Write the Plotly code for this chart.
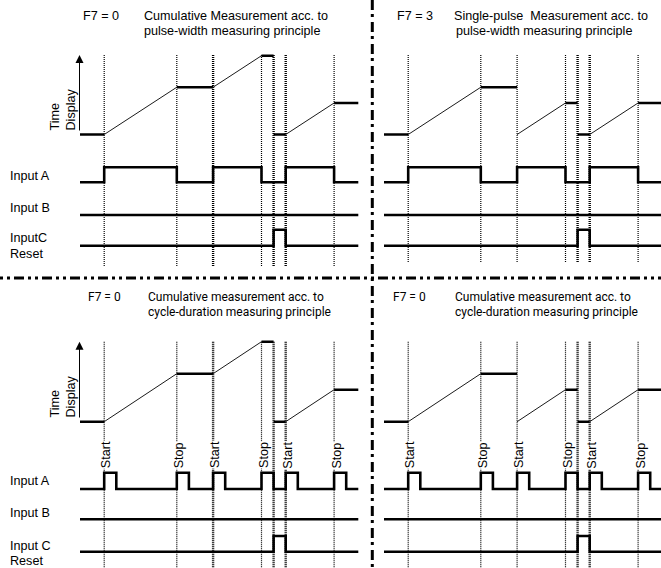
import plotly.graph_objects as go

W, H = 661, 568

# ---------------- data (time in arbitrary units) ----------------
event_t = [2, 8, 11, 15, 16, 17, 21]
t_end = 23

# Time display, cumulative measurement (break points; equal times = jump)
cum_t = [0, 2, 8, 11, 15, 16, 16, 17, 21, 23]
cum_v = [0, 0, 6, 6, 10, 10, 0, 0, 4, 4]
# Time display, single-pulse style measurement
sgl_t = [0, 2, 8, 11, 11, 15, 16, 16, 17, 21, 23]
sgl_v = [0, 0, 6, 6, 0, 4, 4, 0, 0, 4, 4]

# Input A, pulse-width principle (level held after each time)
pw_a_t = [0, 2, 8, 11, 15, 17, 21, 23]
pw_a_v = [0, 1, 0, 1, 0, 1, 0, 0]
# Input A, cycle-duration principle (short pulses)
cd_a_t = [0, 2, 3, 8, 9, 11, 12, 15, 16, 17, 18, 21, 22, 23]
cd_a_v = [0, 1, 0, 1, 0, 1, 0, 1, 0, 1, 0, 1, 0, 0]
# Input B
b_t = [0, 23]
b_v = [0, 0]
# Input C (reset)
c_t = [0, 16, 17, 23]
c_v = [0, 1, 0, 0]

edge_t = [2, 8, 11, 15, 17, 21]
edge_lbl = ["Start", "Stop", "Start", "Stop", "Start", "Stop"]

# ---------------- layout helpers ----------------
PX_PER_T = 12.1
ARIAL = "Liberation Sans, Arial, sans-serif"
SYNT = "Roboto, sans-serif"
FS = 12.6
FS2 = 12.0


def P(x):
    return x / W


def Q(y):
    return 1 - y / H


def xaxis_def(px0, px_lo, px_hi):
    return dict(visible=False, fixedrange=True,
                domain=[px_lo / W, px_hi / W],
                range=[(px_lo - px0) / PX_PER_T, (px_hi - px0) / PX_PER_T])


def yaxis_def(anchor, v_a, py_a, v_b, py_b, lo, hi):
    k = (py_b - py_a) / (v_b - v_a)
    p_lo = py_a + (lo - v_a) * k
    p_hi = py_a + (hi - v_a) * k
    return dict(visible=False, fixedrange=True, anchor=anchor,
                domain=[Q(p_lo), Q(p_hi)], range=[lo, hi])


rows = {
    "top": dict(disp=(134.5, 55.7), a=(182.3, 167.3), b=215.0, c=(245.7, 229.7),
                dot=(55, 267), tdy=132),
    "bot": dict(disp=(421.7, 341.7), a=(489.0, 472.7), b=519.3, c=(551.7, 536.0),
                dot=(341.7, 568), tdy=419),
}

panels = [
    dict(row="top", px0=80, lo=60, hi=366, disp=(cum_t, cum_v), a=(pw_a_t, pw_a_v),
         thick=[11, 16, 17], dotbot=267, inputs=True, edges=False),
    dict(row="top", px0=384, lo=376, hi=661, disp=(sgl_t, sgl_v), a=(pw_a_t, pw_a_v),
         thick=[16, 17], dotbot=262, inputs=False, edges=False),
    dict(row="bot", px0=80, lo=60, hi=366, disp=(cum_t, cum_v), a=(cd_a_t, cd_a_v),
         thick=[11, 16, 17], dotbot=568, inputs=True, edges=True),
    dict(row="bot", px0=384, lo=376, hi=661, disp=(sgl_t, sgl_v), a=(cd_a_t, cd_a_v),
         thick=[16, 17], dotbot=568, inputs=False, edges=True),
]

fig = go.Figure()
layout = {}
shapes = []
annotations = []

SIG_W = 2.6
for i, p in enumerate(panels):
    r = rows[p["row"]]
    xid = "x" if i == 0 else f"x{i + 1}"
    xkey = "xaxis" if i == 0 else f"xaxis{i + 1}"
    layout[xkey] = xaxis_def(p["px0"], p["lo"], p["hi"])
    yids = []
    base = i * 4
    ydefs = [
        yaxis_def(xid, 0, r["disp"][0], 10, r["disp"][1], -1, 11),
        yaxis_def(xid, 0, r["a"][0], 1, r["a"][1], -0.4, 1.4),
        yaxis_def(xid, 0, r["b"], 1, r["b"] - 15, -0.4, 0.4),
        yaxis_def(xid, 0, r["c"][0], 1, r["c"][1], -0.4, 1.4),
    ]
    for j, yd in enumerate(ydefs):
        n = base + j + 1
        ykey = "yaxis" if n == 1 else f"yaxis{n}"
        layout[ykey] = yd
        yids.append("y" if n == 1 else f"y{n}")

    # time display
    ts, vs = p["disp"]
    hx, hy, rx, ry = [], [], [], []
    for k in range(len(ts) - 1):
        if ts[k + 1] == ts[k]:
            continue
        if vs[k + 1] == vs[k]:
            hx += [ts[k], ts[k + 1], None]
            hy += [vs[k], vs[k + 1], None]
        else:
            rx += [ts[k], ts[k + 1], None]
            ry += [vs[k], vs[k + 1], None]
    fig.add_trace(go.Scatter(x=hx, y=hy, xaxis=xid, yaxis=yids[0], mode="lines",
                             line=dict(color="black", width=SIG_W), hoverinfo="skip",
                             showlegend=False))
    fig.add_trace(go.Scatter(x=rx, y=ry, xaxis=xid, yaxis=yids[0], mode="lines",
                             line=dict(color="black", width=0.9), hoverinfo="skip",
                             showlegend=False))
    # inputs
    for (tt, vv), yid in zip([p["a"], (b_t, b_v), (c_t, c_v)], yids[1:]):
        fig.add_trace(go.Scatter(x=tt, y=vv, xaxis=xid, yaxis=yid, mode="lines",
                                 line=dict(color="black", width=SIG_W, shape="hv"),
                                 hoverinfo="skip", showlegend=False))

    # dotted event lines
    for t in event_t:
        w = 2.4 if t in p["thick"] else 1.2
        shapes.append(dict(type="line", xref=xid, yref="paper", x0=t, x1=t,
                           y0=Q(r["dot"][0]), y1=Q(p["dotbot"]), layer="below",
                           line=dict(color="black", width=w, dash="1px,1px")))

    # Start / Stop labels
    if p["edges"]:
        for t, lbl in zip(edge_t, edge_lbl):
            annotations.append(dict(xref=xid, yref="paper", x=t, y=Q(469.5),
                                    text=lbl, showarrow=False, textangle=-90,
                                    xanchor="center", yanchor="bottom", xshift=2,
                                    bgcolor="white", borderpad=0,
                                    font=dict(family=ARIAL, size=FS, color="black")))

    # input labels (left panels only)
    if p["inputs"]:
        top = p["row"] == "top"
        names = ["Input A", "Input B", "InputC" if top else "Input C", "Reset"]
        ys = [175.8, 208, 237.7, 254.2] if top else [481, 513.3, 545.5, 560.5]
        for nm, yy in zip(names, ys):
            annotations.append(dict(xref="paper", yref="paper", x=P(8), y=Q(yy),
                                    text=nm, showarrow=False, xanchor="left",
                                    yanchor="middle",
                                    font=dict(family=ARIAL, size=FS, color="black")))

    # Time Display label and arrow
    ax_px = p["px0"] - 0.5
    if p["inputs"]:
        annotations.append(dict(xref="paper", yref="paper", x=P(62.5), y=Q(r["tdy"]),
                                text="Time<br>Display", showarrow=False, textangle=-90,
                                align="left", xanchor="center", yanchor="bottom",
                                font=dict(family=ARIAL, size=FS, color="black")))
        annotations.append(dict(xref="paper", yref="paper", x=P(ax_px),
                                y=Q(r["dot"][0]), text="", showarrow=True,
                                ax=0, ay=r["tdy"] - r["dot"][0], axref="pixel",
                                ayref="pixel", arrowhead=2, arrowsize=1.6,
                                arrowwidth=1, arrowcolor="black", standoff=0))

# titles
def title(x, y, txt, fam):
    annotations.append(dict(xref="paper", yref="paper", x=P(x), y=Q(y), text=txt,
                            showarrow=False, xanchor="left", yanchor="middle",
                            borderpad=0,
                            font=dict(family=fam, size=FS if fam == ARIAL else FS2,
                                      color="black")))

title(82, 16.5, "F7 = 0", ARIAL)
title(142.5, 16.5, "Cumulative Measurement acc. to", ARIAL)
title(142.5, 31, "pulse-width measuring principle", ARIAL)
title(395.5, 16.5, "F7 = 3", ARIAL)
title(452.5, 16.5, "Single-pulse\u00a0 Measurement acc. to", ARIAL)
title(455, 31, "pulse-width measuring principle", ARIAL)
title(86.5, 297.2, "F7 = 0", SYNT)
title(147, 297.2, "Cumulative measurement acc. to", SYNT)
title(147, 311.6, "cycle-duration measuring principle", SYNT)
title(392, 297.2, "F7 = 0", SYNT)
title(454, 297.2, "Cumulative measurement acc. to", SYNT)
title(454, 311.6, "cycle-duration measuring principle", SYNT)

# dash-dot separators
shapes.append(dict(type="line", xref="paper", yref="paper", x0=0, x1=1,
                   y0=Q(278), y1=Q(278), layer="above",
                   line=dict(color="black", width=3, dash="3px,4px,3px,4px,10px,4px")))
shapes.append(dict(type="line", xref="paper", yref="paper", x0=P(372.3), x1=P(372.3),
                   y0=1, y1=0, layer="above",
                   line=dict(color="black", width=3, dash="10px,4px,3px,5px")))

fig.update_layout(width=W, height=H, margin=dict(l=0, r=0, t=0, b=0),
                  paper_bgcolor="white", plot_bgcolor="rgba(0,0,0,0)",
                  shapes=shapes, annotations=annotations, showlegend=False,
                  **layout)

fig.write_html("out.html", config={"displayModeBar": False},
               post_script="document.body.style.margin='0';"
                           "document.body.style.overflow='hidden';")
